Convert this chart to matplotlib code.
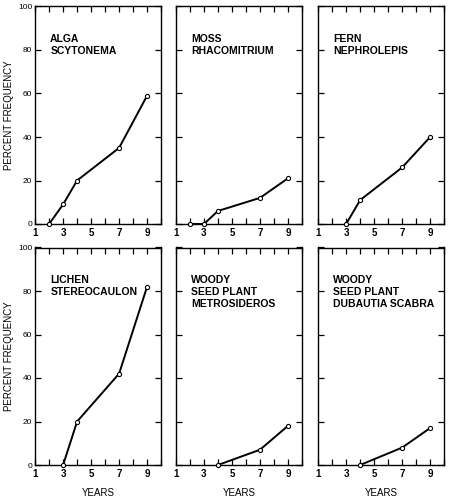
import matplotlib
matplotlib.use('Agg')
import matplotlib.pyplot as plt

plt.rcParams['font.family'] = ['Liberation Sans', 'DejaVu Sans']

titles = ['ALGA\nSCYTONEMA', 'MOSS\nRHACOMITRIUM', 'FERN\nNEPHROLEPIS',
          'LICHEN\nSTEREOCAULON', 'WOODY\nSEED PLANT\nMETROSIDEROS',
          'WOODY\nSEED PLANT\nDUBAUTIA SCABRA']

alga_x = [2, 3, 4, 7, 9]
alga_y = [0, 9, 20, 35, 59]
moss_x = [2, 3, 4, 7, 9]
moss_y = [0, 0, 6, 12, 21]
fern_x = [3, 4, 7, 9]
fern_y = [0, 11, 26, 40]
lichen_x = [3, 4, 7, 9]
lichen_y = [0, 20, 42, 82]
metro_x = [4, 7, 9]
metro_y = [0, 7, 18]
dubautia_x = [4, 7, 9]
dubautia_y = [0, 8, 17]

series = [(alga_x, alga_y), (moss_x, moss_y), (fern_x, fern_y),
          (lichen_x, lichen_y), (metro_x, metro_y), (dubautia_x, dubautia_y)]

year_ticks = list(range(1, 11))
year_labels = ['1', '', '3', '', '5', '', '7', '', '9', '']
pct_ticks = [0, 20, 40, 60, 80, 100]

fig = plt.figure(figsize=(4.5, 5), dpi=100)

lefts = [0.078, 0.391, 0.707]
bottoms = [0.552, 0.07]
w = 0.280
h = 0.435

for i, (xs, ys) in enumerate(series):
    row, col = divmod(i, 3)
    ax = fig.add_axes([lefts[col], bottoms[row], w, h])
    ax.plot(xs, ys, color='black', lw=1.4, marker='o', ms=3,
            mfc='white', mec='black', mew=0.8, clip_on=False, zorder=3)
    ax.set_xlim(1, 10)
    ax.set_ylim(0, 100)
    ax.set_xticks(year_ticks)
    ax.set_xticklabels(year_labels, fontsize=7, fontweight='bold')
    ax.set_yticks(pct_ticks)
    if col == 0:
        ax.set_yticklabels([str(t) for t in pct_ticks], fontsize=6)
        ax.set_ylabel('PERCENT FREQUENCY', fontsize=7, labelpad=3)
    else:
        ax.set_yticklabels([])
    ax.tick_params(axis='x', direction='in', top=True, length=4, width=0.9, pad=3)
    ax.tick_params(axis='y', direction='in', right=True, length=4, width=0.9, pad=2)
    for s in ax.spines.values():
        s.set_linewidth(1.0)
    if row == 1:
        ax.set_xlabel('YEARS', fontsize=7, labelpad=6)
    ax.text(0.12, 0.872, titles[i], transform=ax.transAxes, ha='left', va='top',
            fontsize=7.5, fontweight='bold', linespacing=1.2)

fig.savefig('out.png', dpi=100)
